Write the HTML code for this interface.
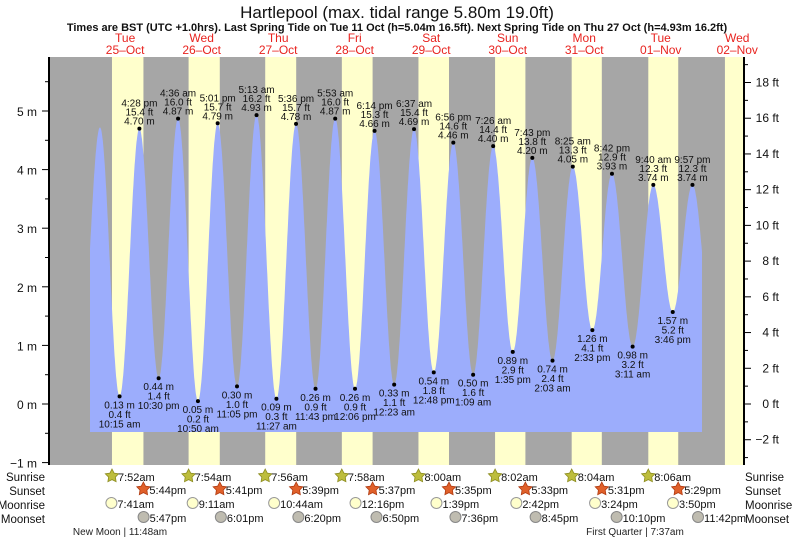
<!DOCTYPE html>
<html><head><meta charset="utf-8"><style>
html,body{margin:0;padding:0;background:#fff;}
svg{display:block;font-family:"Liberation Sans",sans-serif;}
</style></head><body>
<svg id="chart" width="793" height="539" viewBox="0 0 793 539">
<text x="397" y="18" text-anchor="middle" font-size="17" fill="#111">Hartlepool (max. tidal range 5.80m 19.0ft)</text>
<text x="397" y="31" text-anchor="middle" font-size="11" font-weight="bold" fill="#111">Times are BST (UTC +1.0hrs). Last Spring Tide on Tue 11 Oct (h=5.04m 16.5ft). Next Spring Tide on Thu 27 Oct (h=4.93m 16.2ft)</text>
<g id="bg"></g><g id="tide"></g><g id="axes"></g><g id="labels"></g><g id="bottom"></g>
</svg>
<script>
// ---- data ----
const dayNames = ["Tue","Wed","Thu","Fri","Sat","Sun","Mon","Tue","Wed"];
const dayDates = ["25\u2013Oct","26\u2013Oct","27\u2013Oct","28\u2013Oct","29\u2013Oct","30\u2013Oct","31\u2013Oct","01\u2013Nov","02\u2013Nov"];
const sunrise = ["7:52am","7:54am","7:56am","7:58am","8:00am","8:02am","8:04am","8:06am","8:08am"];
const sunset = ["5:44pm","5:41pm","5:39pm","5:37pm","5:35pm","5:33pm","5:31pm","5:29pm","5:27pm"];
const moonrise = ["7:41am","9:11am","10:44am","12:16pm","1:39pm","2:42pm","3:24pm","3:50pm"];
const moonset = ["5:47pm","6:01pm","6:20pm","6:50pm","7:36pm","8:45pm","10:10pm","11:42pm"];
const tideDay = [-1,0,0,0,0,1,1,1,1,2,2,2,2,3,3,3,4,4,4,4,5,5,5,5,6,6,6,6,7,7,7,7,8];
const tideTime = ["9:54pm","4:06am","10:15am","4:28pm","10:30pm","4:36am","10:50am","5:01pm","11:05pm","5:13am","11:27am","5:36pm","11:43pm","5:53am","12:06pm","6:14pm","12:23am","6:37am","12:48pm","6:56pm","1:09am","7:26am","1:35pm","7:43pm","2:03am","8:25am","2:33pm","8:42pm","3:11am","9:40am","3:46pm","9:57pm","4:20am"];
const tideHeight = [0.64,4.72,0.13,4.70,0.44,4.87,0.05,4.79,0.30,4.93,0.09,4.78,0.26,4.87,0.26,4.66,0.33,4.69,0.54,4.46,0.50,4.40,0.89,4.20,0.74,4.05,1.26,3.93,0.98,3.74,1.57,3.74,1.20];
const mTicks = [-1,0,1,2,3,4,5];
const ftTicks = [-2,0,2,4,6,8,10,12,14,16,18];
// ---- scales ----
const X0=50,X1=743,Y0=57,Y1=465;
const xT = h => 86.9 + h*3.188;
const yM = m => 404 - m*58.6;
const yF = f => yM(f*0.3048);
function hrs(s){const m=s.match(/(\d+):(\d+)(am|pm)/);let h=+m[1]%12;if(m[3]=="pm")h+=12;return h+ +m[2]/60;}
const NS="http://www.w3.org/2000/svg";
function mk(tag,attrs,parent,text){const e=document.createElementNS(NS,tag);for(const k in attrs)e.setAttribute(k,attrs[k]);if(text!==undefined)e.textContent=text;parent.appendChild(e);return e;}
const bg=document.getElementById('bg'),tide=document.getElementById('tide'),axes=document.getElementById('axes'),labels=document.getElementById('labels'),bottom=document.getElementById('bottom');
let r=mk('rect',{x:X0,y:Y0,width:X1-X0,height:Y1-Y0,fill:'#a6a6a6'},bg);

for(let d=0;d<9;d++){
  const a=Math.max(X0,xT(d*24+hrs(sunrise[d]))),b=Math.min(X1,xT(d*24+hrs(sunset[d])));
  if(b>a){const e=mk('rect',{x:a,y:Y0,width:b-a,height:Y1-Y0,fill:'#ffffcc'},bg);
  }
  const cx=xT(d*24+12);
  const t1=mk('text',{x:cx,y:42,'text-anchor':'middle','font-size':12,fill:'#e8231f'},bg,dayNames[d]);
  
  const t2=mk('text',{x:cx,y:54,'text-anchor':'middle','font-size':12,fill:'#e8231f'},bg,dayDates[d]);
  
}
const pts=tideHeight.map((h,i)=>[tideDay[i]*24+hrs(tideTime[i]),h]);
function val(t){for(let i=0;i<pts.length-1;i++){const[a,ha]=pts[i],[b,hb]=pts[i+1];if(t>=a&&t<=b){const f=(1-Math.cos(Math.PI*(t-a)/(b-a)))/2;return ha+(hb-ha)*f;}}return pts[pts.length-1][1];}
const tStart=(90-86.9)/3.188,tEnd=(702-86.9)/3.188,yBase=432;
let dstr=`M${xT(tStart)},${yBase} L${xT(tStart)},${yM(val(tStart)).toFixed(1)}`;
for(let t=tStart;t<=tEnd;t+=0.1)dstr+=` L${xT(t).toFixed(1)},${yM(val(t)).toFixed(1)}`;
dstr+=` L${xT(tEnd)},${yM(val(tEnd)).toFixed(1)} L${xT(tEnd)},${yBase} Z`;
const p=mk('path',{d:dstr,fill:'#9cadfc'},tide);

pts.forEach(([t,h],i)=>{
  if(i<2||i==pts.length-1)return;
  const x=xT(t),y=yM(h),high=h>pts[i-1][1];
  const dot=mk('circle',{cx:x,cy:y,r:2,fill:'#000'},labels);
  
  const tm=tideTime[i].replace(/(am|pm)/,' $1');
  const ft=(h*3.28084).toFixed(1)+' ft',mm=h.toFixed(2)+' m';
  const lines=high?[tm,ft,mm]:[mm,ft,tm];
  const g=mk('text',{'font-size':10,fill:'#111','text-anchor':'middle'},labels);
  
  lines.forEach((s,k)=>{const by=high?y-4-(2-k)*9:y+12+k*9.5;mk('tspan',{x:x,y:by},g,s);});
});
let ax=mk('line',{x1:49,y1:Y0,x2:49,y2:Y1,stroke:'#000','stroke-width':2},axes);

ax=mk('line',{x1:X1+1,y1:Y0,x2:X1+1,y2:Y1,stroke:'#000','stroke-width':2},axes);

for(let m=-1;m<=5.5;m+=0.5){mk('line',{x1:m%1==0?42:45,y1:yM(m),x2:49,y2:yM(m),stroke:'#000'},axes);}
mTicks.forEach(m=>{const t=mk('text',{x:37,y:yM(m)+5,'text-anchor':'end','font-size':12,fill:'#111'},axes,(m<0?'\u22121':m)+' m');
  });
for(let f=-3;f<=19;f++){mk('line',{x1:X1+1,y1:yF(f),x2:X1+(f%2==0?8:5),y2:yF(f),stroke:'#000'},axes);}
ftTicks.forEach(f=>{const t=mk('text',{x:779,y:yF(f)+4,'text-anchor':'end','font-size':12,fill:'#111'},axes,(f<0?'\u2212'+(-f):f)+' ft');
  });
const rows=[['Sunrise',477],['Sunset',491],['Moonrise',505],['Moonset',519]];
rows.forEach(([n,y])=>{
  let t=mk('text',{x:45,y:y+4,'text-anchor':'end','font-size':11.5,fill:'#111'},bottom,n);
  
  t=mk('text',{x:745,y:y+4,'font-size':11.5,fill:'#111'},bottom,n);
  
});
function star(cx,cy,fill,stroke){let s='';for(let k=0;k<10;k++){const a=-Math.PI/2+k*Math.PI/5,rr=k%2?3.6:7;s+=(cx+rr*Math.cos(a)).toFixed(1)+','+(cy+rr*Math.sin(a)).toFixed(1)+' ';}return mk('polygon',{points:s,fill:fill,stroke:stroke,'stroke-width':0.8},bottom);}
for(let d=0;d<8;d++){
  let x=xT(d*24+hrs(sunrise[d]));
  let s=star(x,476,'#bdbd3c','#8c8c20');
  let t=mk('text',{x:x+6,y:481,'font-size':11,fill:'#111'},bottom,sunrise[d]);
  x=xT(d*24+hrs(sunset[d]));
  s=star(x,489,'#e0602a','#b03a10');
  t=mk('text',{x:x+6,y:494,'font-size':11,fill:'#111'},bottom,sunset[d]);
  x=xT(d*24+hrs(moonrise[d]));
  let c=mk('circle',{cx:x,cy:503,r:5.5,fill:'#ffffcc',stroke:'#999'},bottom);
  t=mk('text',{x:x+6,y:508,'font-size':11,fill:'#111'},bottom,moonrise[d]);
  x=xT(d*24+hrs(moonset[d]));
  c=mk('circle',{cx:x,cy:517,r:5.5,fill:'#bfbcb0',stroke:'#888'},bottom);
  t=mk('text',{x:x+6,y:522,'font-size':11,fill:'#111'},bottom,moonset[d]);
}
let mp=mk('text',{x:120,y:535,'text-anchor':'middle','font-size':10,fill:'#222'},bottom,'New Moon | 11:48am');

mp=mk('text',{x:635,y:535,'text-anchor':'middle','font-size':10,fill:'#222'},bottom,'First Quarter | 7:37am');

</script>
</body></html>
